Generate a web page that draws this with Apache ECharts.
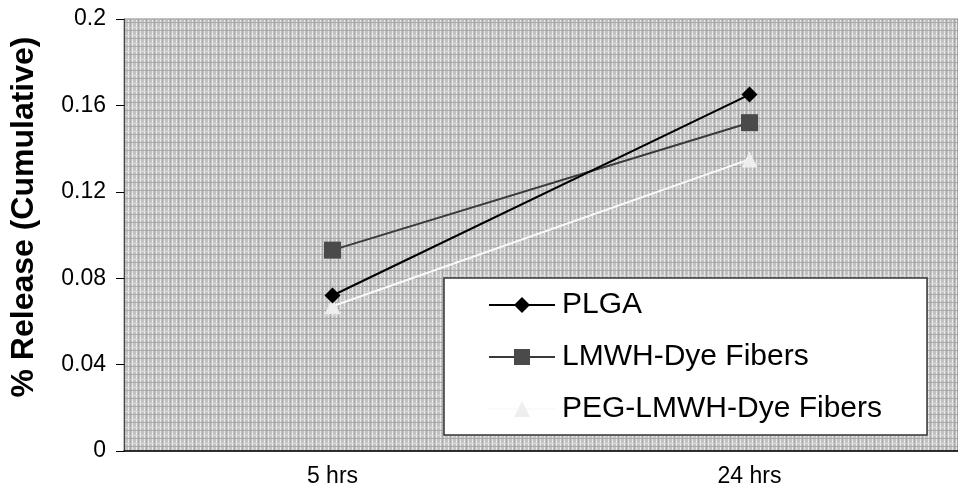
<!DOCTYPE html>
<html><head><meta charset="utf-8">
<script src="https://cdn.jsdelivr.net/npm/echarts@6/dist/echarts.min.js"></script>
<style>html,body{margin:0;padding:0;background:#fff}#c{width:958px;height:501px}</style>
</head><body><div id="c"></div>
<script>
const categories = ['5 hrs', '24 hrs'];
const plga = [0.072, 0.165];
const lmwh = [0.093, 0.152];
const peg = [0.067, 0.135];
const seriesNames = ['PLGA', 'LMWH-Dye Fibers', 'PEG-LMWH-Dye Fibers'];

// hatch pattern for plot background
const pc = document.createElement('canvas');
pc.width = 8; pc.height = 8;
const g = pc.getContext('2d');
g.fillStyle = '#c2c2c2'; g.fillRect(0,0,8,8);
g.fillStyle = '#e8e8e8'; g.fillRect(0,0,1,8); g.fillRect(4,0,1,8);
g.fillStyle = '#dadada'; g.fillRect(0,3,8,1);
g.fillStyle = '#a8a8a8'; g.fillRect(2,0,1,8); g.fillRect(0,6,8,1);

const chart = echarts.init(document.getElementById('c'));
const font = 'Liberation Sans, Arial, sans-serif';
chart.setOption({
  animation: false,
  backgroundColor: '#fff',
  grid: { left: 123, right: -9, top: 19, bottom: 50, show: true,
          backgroundColor: {image: pc, repeat: 'repeat'}, borderColor: '#888', borderWidth: 1 },
  xAxis: {
    type: 'category', data: categories, boundaryGap: true,
    axisLine: { lineStyle: { color: '#000', width: 1.5 } },
    axisTick: { show: false },
    axisLabel: { color: '#000', fontSize: 23, fontFamily: font, margin: 14 }
  },
  yAxis: {
    type: 'value', min: 0, max: 0.2, interval: 0.04,
    name: '% Release (Cumulative)', nameLocation: 'middle', nameGap: 84,
    nameTextStyle: { color: '#000', fontSize: 32, fontWeight: 'bold', fontFamily: font,
                     padding: [0, 0, 0, 36] },
    axisLine: { show: true, lineStyle: { color: '#444', width: 1 } },
    axisTick: { show: true, inside: false, length: 8, lineStyle: { color: '#000' } },
    axisLabel: { color: '#000', fontSize: 23, fontFamily: font, margin: 18 },
    splitLine: { show: false }
  },
  legend: {
    orient: 'vertical', left: 444, top: 278,
    backgroundColor: '#fff', borderColor: '#333', borderWidth: 1.5,
    padding: [12, 45, 11, 44],
    itemWidth: 66, itemHeight: 20, itemGap: 22,
    textStyle: { color: '#000', fontSize: 30, fontFamily: font, padding: [0,0,0,2] },
    data: seriesNames
  },
  series: [
    { name: seriesNames[0], type: 'line', data: plga, symbol: 'diamond', symbolSize: 16,
      lineStyle: { color: '#000', width: 2 }, itemStyle: { color: '#000' }, z: 4 },
    { name: seriesNames[1], type: 'line', data: lmwh, symbol: 'rect', symbolSize: 17,
      lineStyle: { color: '#3a3a3a', width: 2 }, itemStyle: { color: '#4a4a4a' }, z: 3 },
    { name: seriesNames[2], type: 'line', data: peg, symbol: 'triangle', symbolSize: 16,
      lineStyle: { color: '#fafafa', width: 2 }, itemStyle: { color: '#eeeeee' }, z: 2 }
  ]
});
</script></body></html>
